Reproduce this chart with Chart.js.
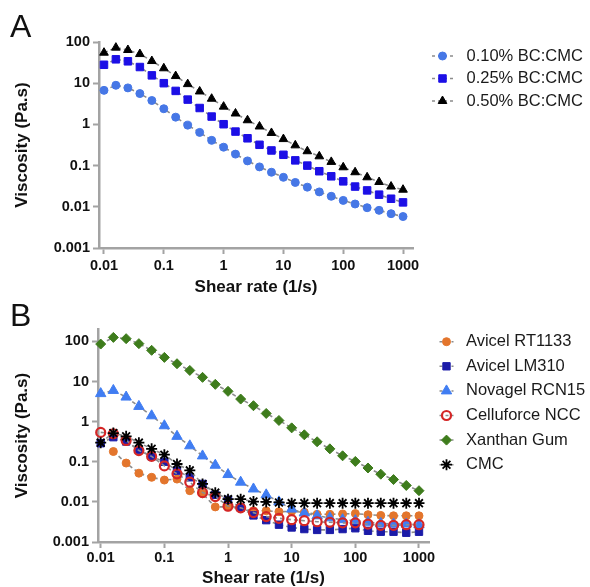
<!DOCTYPE html>
<html lang="en">
<head>
<meta charset="UTF-8">
<title>Viscosity vs shear rate</title>
<script src="https://cdn.jsdelivr.net/npm/chart.js@4"></script>
<style>
  body { margin: 0; width: 590px; height: 587px; overflow: hidden; background: #fff; }
  .panel { position: absolute; left: 0; width: 590px; height: 300px; }
  .panel canvas { display: block; }
  .tag { position: absolute; left: 10px; font-family: "Liberation Sans", Arial, sans-serif; font-size: 32px; line-height: 32px; color: #111; }
</style>
</head>
<body>
<div class="panel" style="top:0"><canvas id="chartA" width="590" height="300"></canvas></div>
<div class="panel" style="top:292px"><canvas id="chartB" width="590" height="300"></canvas></div>
<div class="tag" style="top:10px">A</div>
<div class="tag" style="top:299px">B</div>

<script>
// shear rates, 5 points per decade
const shearRate = [0.01, 0.0158, 0.0251, 0.0398, 0.0631, 0.1, 0.158, 0.251, 0.398, 0.631,
                   1, 1.58, 2.51, 3.98, 6.31, 10, 15.8, 25.1, 39.8, 63.1,
                   100, 158, 251, 398, 631, 1000];

// panel A - BC:CMC blends
const bc010 = [6.7, 8.9, 7.7, 5.6, 3.8, 2.4, 1.5, 0.96, 0.64, 0.41, 0.28, 0.19, 0.13, 0.093, 0.069, 0.052,
               0.039, 0.030, 0.023, 0.018, 0.0143, 0.0117, 0.0095, 0.0082, 0.0068, 0.0058];
const bc025 = [28, 38, 34, 24.7, 15.5, 10, 6.5, 4.0, 2.5, 1.55, 1.01, 0.67, 0.46, 0.32, 0.233, 0.183,
               0.134, 0.100, 0.073, 0.055, 0.0415, 0.031, 0.025, 0.0197, 0.0157, 0.0128];
const bc050 = [55, 73, 64, 51, 34.5, 23, 14.9, 9.5, 6.3, 4.2, 2.7, 1.84, 1.26, 0.89, 0.62, 0.44,
               0.31, 0.223, 0.168, 0.123, 0.091, 0.069, 0.052, 0.040, 0.031, 0.026];

// panel B - reference materials
const avicelRT = [null, 0.18, 0.093, 0.052, 0.041, 0.035, 0.037, 0.019, 0.016, 0.0075, 0.0075, 0.0068, 0.006,
                  0.006, 0.0057, 0.0058, 0.0055, 0.0049, 0.0049, 0.0050, 0.0051, 0.0048, 0.0046, 0.0045, 0.0045, 0.0045];
const avicelLM = [0.29, 0.41, 0.32, 0.20, 0.136, 0.10, 0.060, 0.041, 0.028, 0.015, 0.0113, 0.0072, 0.0046,
                  0.0035, 0.0027, 0.0023, 0.0021, 0.0020, 0.0020, 0.0021, 0.0022, 0.0019, 0.0018, 0.0018, 0.0017, 0.0018];
const novagel = [5.0, 6.0, 4.1, 2.4, 1.40, 0.79, 0.43, 0.25, 0.14, 0.082, 0.048, 0.031, 0.021,
                 0.015, 0.010, 0.0066, 0.0053, 0.0045, 0.0040, 0.0036, 0.0034, 0.0031, 0.0029, 0.0028, 0.0028, 0.0027];
const celluforce = [0.54, 0.50, 0.34, 0.19, 0.136, 0.079, 0.050, 0.031, 0.017, 0.0136, 0.0078, 0.0071, 0.0054,
                    0.0043, 0.0039, 0.0036, 0.0034, 0.0032, 0.0031, 0.0030, 0.0030, 0.0028, 0.0026, 0.0026, 0.0027, 0.0027];
const xanthan = [86, 126, 117, 88, 60, 40, 27.8, 18.9, 12.7, 8.5, 5.7, 3.66, 2.5,
                 1.6, 1.07, 0.70, 0.47, 0.315, 0.21, 0.141, 0.102, 0.070, 0.049, 0.036, 0.0257, 0.019];
const cmc = [0.30, 0.52, 0.43, 0.30, 0.21, 0.15, 0.088, 0.061, 0.028, 0.017, 0.0117, 0.0117, 0.0102,
             0.0100, 0.0097, 0.0093, 0.0093, 0.0093, 0.0093, 0.0093, 0.0093, 0.0093, 0.0093, 0.0093, 0.0093, 0.0093];

// axis ticks
const xTicks = [0.01, 0.1, 1, 10, 100, 1000];
const xTickLabels = ['0.01', '0.1', '1', '10', '100', '1000'];
const yTicks = [0.001, 0.01, 0.1, 1, 10, 100];
const yTickLabels = ['0.001', '0.01', '0.1', '1', '10', '100'];

const FONT = '"Liberation Sans", Arial, sans-serif';
const axisGray = '#a3a3a3';
const lineGray = '#8c8c8c';

function series(label, values, style) {
    return Object.assign({
        label: label,
        data: values.map((v, i) => ({ x: shearRate[i], y: v })),
        borderColor: lineGray,
        borderWidth: 1.6,
        borderDash: [4, 3],
        fill: false,
        tension: 0,
        clip: false,
        pointBorderWidth: 1
    }, style);
}

function logAxis(opts) {
    return {
        type: 'logarithmic',
        position: opts.position,
        min: opts.min,
        max: opts.max,
        bounds: 'data',
        afterBuildTicks: scale => { scale.ticks = opts.values.map(v => ({ value: v })); },
        afterFit: opts.fit,
        ticks: {
            autoSkip: false, maxRotation: 0, padding: opts.tickPad, color: '#111',
            font: { family: FONT, size: 14.5, weight: 'bold' },
            callback: (v, i) => opts.labels[i]
        },
        grid: { drawOnChartArea: false, drawTicks: true, tickLength: 6, tickColor: axisGray, tickWidth: 2 },
        border: { color: axisGray, width: 2.5 },
        title: {
            display: true, text: opts.title, color: '#111',
            font: { family: FONT, size: 17, weight: 'bold' },
            padding: opts.titlePad
        }
    };
}

// legend drawn at the right: dashed segment, marker, label
const sideLegend = {
    id: 'sideLegend',
    afterDraw(chart, args, o) {
        const ctx = chart.ctx;
        ctx.save();
        chart.data.datasets.forEach((ds, i) => {
            const y = o.top + i * o.step;
            ctx.setLineDash([3, 3]);
            ctx.strokeStyle = lineGray;
            ctx.lineWidth = 1.5;
            ctx.beginPath();
            ctx.moveTo(o.x0, y);
            ctx.lineTo(o.x1, y);
            ctx.stroke();
            ctx.setLineDash([]);
            ctx.fillStyle = ds.pointBackgroundColor;
            ctx.strokeStyle = ds.pointBorderColor;
            ctx.lineWidth = ds.pointBorderWidth;
            Chart.helpers.drawPoint(ctx, {
                pointStyle: ds.pointStyle, radius: ds.pointRadius,
                borderWidth: ds.pointBorderWidth, rotation: 0
            }, (o.x0 + o.x1) / 2, y);
            ctx.fillStyle = '#1a1a1a';
            ctx.font = '16.5px ' + FONT;
            ctx.textBaseline = 'middle';
            ctx.textAlign = 'left';
            ctx.fillText(ds.label, o.textX, y);
        });
        ctx.restore();
    }
};

new Chart(document.getElementById('chartA'), {
    type: 'line',
    data: {
        datasets: [
            series('0.10% BC:CMC', bc010, { pointStyle: 'circle', pointRadius: 4, pointBackgroundColor: '#4677e6', pointBorderColor: '#4677e6' }),
            series('0.25% BC:CMC', bc025, { pointStyle: 'rect', pointRadius: 5.3, pointBackgroundColor: '#1c0fe6', pointBorderColor: '#1c0fe6' }),
            series('0.50% BC:CMC', bc050, { pointStyle: 'triangle', pointRadius: 5, pointBackgroundColor: '#000', pointBorderColor: '#000' })
        ]
    },
    options: {
        responsive: false,
        animation: false,
        layout: { padding: { top: 42, right: 177, bottom: 0, left: 0 } },
        scales: {
            x: logAxis({ position: 'bottom', min: 0.00825, max: 1468, values: xTicks, labels: xTickLabels,
                         title: 'Shear rate (1/s)', tickPad: 3, titlePad: { top: 0, bottom: 2 },
                         fit: s => { s.height = 52; } }),
            y: logAxis({ position: 'left', min: 0.001, max: 100, values: yTicks, labels: yTickLabels,
                         title: 'Viscosity (Pa.s)', tickPad: 3, titlePad: { top: 12, bottom: 0 },
                         fit: s => { s.width = 99; } })
        },
        plugins: {
            legend: { display: false },
            tooltip: { enabled: false },
            sideLegend: { top: 56, step: 22.5, x0: 432, x1: 453, textX: 466.5 }
        }
    },
    plugins: [sideLegend]
});

const bSets = [
    series('Avicel RT1133', avicelRT, { pointStyle: 'circle', pointRadius: 4, pointBackgroundColor: '#e3752c', pointBorderColor: '#e3752c' }),
    series('Avicel LM310', avicelLM, { pointStyle: 'rect', pointRadius: 5.2, pointBackgroundColor: '#1b1ba8', pointBorderColor: '#1b1ba8' }),
    series('Novagel RCN15', novagel, { pointStyle: 'triangle', pointRadius: 6, pointBackgroundColor: '#407df2', pointBorderColor: '#407df2' }),
    series('Celluforce NCC', celluforce, { pointStyle: 'circle', pointRadius: 4.5, pointBackgroundColor: 'rgba(255,255,255,0)', pointBorderColor: '#d42626', pointBorderWidth: 2.2 }),
    series('Xanthan Gum', xanthan, { pointStyle: 'rectRot', pointRadius: 5, pointBackgroundColor: '#3e7c1c', pointBorderColor: '#3e7c1c' }),
    series('CMC', cmc, { pointStyle: 'star', pointRadius: 5.5, pointBackgroundColor: '#000', pointBorderColor: '#000', pointBorderWidth: 1.8 })
];
// later series sit on top
bSets.forEach((d, i) => { d.order = bSets.length - i; });

new Chart(document.getElementById('chartB'), {
    type: 'line',
    data: { datasets: bSets },
    options: {
        responsive: false,
        animation: false,
        layout: { padding: { top: 37, right: 161, bottom: 0, left: 0 } },
        scales: {
            x: logAxis({ position: 'bottom', min: 0.00907, max: 1436, values: xTicks, labels: xTickLabels,
                         title: 'Shear rate (1/s)', tickPad: 1, titlePad: { top: 0, bottom: 3 },
                         fit: s => { s.height = 50; } }),
            y: logAxis({ position: 'left', min: 0.001, max: 204, values: yTicks, labels: yTickLabels,
                         title: 'Viscosity (Pa.s)', tickPad: 3, titlePad: { top: 12, bottom: 0 },
                         fit: s => { s.width = 98; } })
        },
        plugins: {
            legend: { display: false },
            tooltip: { enabled: false },
            sideLegend: { top: 49.7, step: 24.6, x0: 439.5, x1: 453.5, textX: 466 }
        }
    },
    plugins: [sideLegend]
});
</script>
</body>
</html>
